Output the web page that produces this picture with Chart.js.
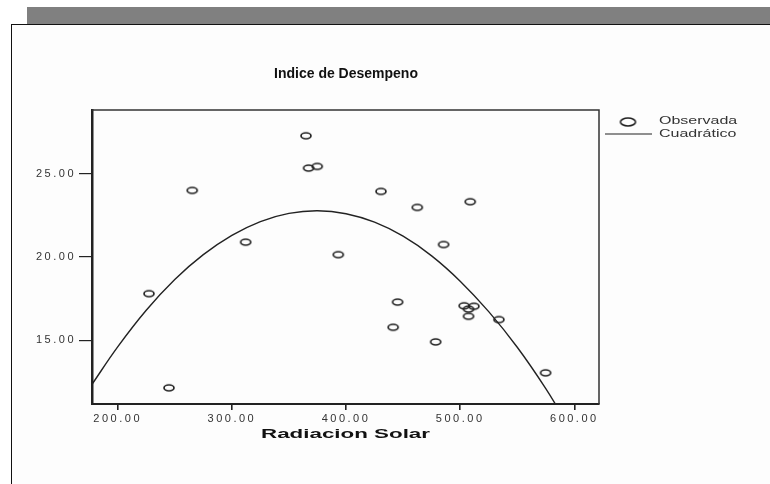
<!DOCTYPE html>
<html>
<head>
<meta charset="utf-8">
<script src="https://cdn.jsdelivr.net/npm/chart.js@4/dist/chart.umd.min.js"></script>
<style>
  html, body { margin: 0; padding: 0; background: #ffffff; width: 770px; height: 484px; overflow: hidden; }
  #bar { position: absolute; left: 27px; top: 7px; width: 743px; height: 17px; background: #808080; }
  #box { position: absolute; left: 11px; top: 24px; width: 800px; height: 500px; background: #fdfdfd;
         border-left: 1.5px solid #111; border-top: 1.5px solid #111; }
  #c { position: absolute; left: 0; top: 0; }
</style>
</head>
<body>
<div id="bar"></div>
<div id="box"></div>
<canvas id="c" width="770" height="484"></canvas>
<script>
// ---- data ----
const chartTitle = "Indice de Desempeno";
const xAxisTitle = "Radiacion Solar";
const legendLabels = ["Observada", "Cuadrático"];
const xTicks = [200, 300, 400, 500, 600];
const yTicks = [15, 20, 25];
const obsX = [227.4, 244.9, 265.3, 312.1, 364.9, 367.2, 374.8, 393.2, 430.6, 441.3, 445.2, 462.4, 478.5, 485.5, 503.5, 507.3, 507.3, 508.8, 512.0, 533.9, 574.8];
const obsY = [17.80, 12.14, 24.00, 20.89, 27.28, 25.34, 25.44, 20.14, 23.94, 15.78, 17.29, 22.98, 14.90, 20.75, 17.07, 16.87, 16.44, 23.32, 17.04, 16.24, 13.04];
const fitX = [177.5, 200, 225, 250, 275, 300, 325, 350, 375, 400, 425, 450, 475, 500, 525, 550, 575, 590];
const fitY = [12.35, 14.60, 16.80, 18.65, 20.14, 21.30, 22.13, 22.62, 22.78, 22.60, 22.09, 21.25, 20.07, 18.55, 16.72, 14.58, 12.10, 10.40];

// ellipse marker (picture is horizontally stretched)
function ellipseMarker(w, h, lw) {
  const cv = document.createElement('canvas');
  cv.width = w + 4; cv.height = h + 4;
  const g = cv.getContext('2d');
  g.strokeStyle = '#222'; g.lineWidth = lw;
  g.beginPath();
  g.ellipse(cv.width / 2, cv.height / 2, w / 2, h / 2, 0, 0, Math.PI * 2);
  g.stroke();
  return cv;
}
const ptMarker = ellipseMarker(10, 6, 1.7);
const legMarker = ellipseMarker(15, 8, 1.6);

function sText(ctx, text, x, y, font, align, sx, color) {
  ctx.save();
  ctx.letterSpacing = '0px';
  ctx.translate(x, y);
  ctx.scale(sx, 1);
  ctx.font = font;
  ctx.fillStyle = color;
  ctx.textAlign = align;
  ctx.textBaseline = 'middle';
  ctx.fillText(text, 0, 0);
  ctx.restore();
}

const decor = {
  id: 'decor',
  beforeDraw(chart) { chart.ctx.letterSpacing = '2.5px'; },
  afterDraw(chart) {
    const ctx = chart.ctx;
    ctx.letterSpacing = '0px';
    const a = chart.chartArea;
    ctx.save();
    ctx.strokeStyle = '#333'; ctx.lineWidth = 1.5;
    ctx.beginPath();
    ctx.moveTo(a.left, a.top); ctx.lineTo(a.right, a.top); ctx.lineTo(a.right, a.bottom);
    ctx.stroke();
    ctx.restore();
    // title
    sText(ctx, chartTitle, 346, 74, 'bold 14px "Liberation Sans"', 'center', 1.0, '#111');
    // x axis title
    sText(ctx, xAxisTitle, (a.left + a.right) / 2, 434, 'bold 13px "Liberation Sans"', 'center', 1.72, '#111');
    // legend
    ctx.drawImage(legMarker, 628 - legMarker.width / 2, 122 - legMarker.height / 2);
    sText(ctx, legendLabels[0], 659, 121.5, '10px "Liberation Sans"', 'left', 1.6, '#333');
    ctx.save();
    ctx.strokeStyle = '#222'; ctx.lineWidth = 1.2;
    ctx.beginPath(); ctx.moveTo(605, 134); ctx.lineTo(652, 134); ctx.stroke();
    ctx.restore();
    sText(ctx, legendLabels[1], 659, 134, '10px "Liberation Sans"', 'left', 1.6, '#333');
  }
};

new Chart(document.getElementById('c'), {
  type: 'scatter',
  data: {
    datasets: [
      {
        label: legendLabels[0],
        data: obsX.map((x, i) => ({ x: x, y: obsY[i] })),
        pointStyle: ptMarker,
        pointRadius: 5,
        showLine: false,
        order: 1
      },
      {
        label: legendLabels[1],
        type: 'line',
        data: fitX.map((x, i) => ({ x: x, y: fitY[i] })),
        borderColor: '#222',
        borderWidth: 1.4,
        pointRadius: 0,
        tension: 0.4,
        fill: false,
        order: 2
      }
    ]
  },
  options: {
    responsive: false,
    animation: false,
    devicePixelRatio: 1,
    layout: { padding: { left: 0, top: 110, right: 171, bottom: 0 } },
    plugins: { legend: { display: false }, title: { display: false }, tooltip: { enabled: false } },
    scales: {
      x: {
        type: 'linear', position: 'bottom', min: 177.5, max: 621.6,
        afterFit(s) { s.height = 80; },
        afterBuildTicks(s) { s.ticks = xTicks.map(v => ({ value: v })); },
        grid: { display: true, drawOnChartArea: false, drawTicks: true, tickLength: 6, color: '#222', lineWidth: 1.6 },
        border: { display: true, color: '#222', width: 2 },
        ticks: { padding: 2, color: '#333', font: { family: 'Liberation Sans', size: 11 }, maxRotation: 0,
                 callback: v => Number(v).toFixed(2) }
      },
      y: {
        type: 'linear', min: 11.17, max: 28.83,
        afterFit(s) { s.width = 92; },
        afterBuildTicks(s) { s.ticks = yTicks.map(v => ({ value: v })); },
        grid: { display: true, drawOnChartArea: false, drawTicks: true, tickLength: 13, color: '#222', lineWidth: 1.2 },
        border: { display: true, color: '#222', width: 2.5 },
        ticks: { padding: 3, color: '#333', font: { family: 'Liberation Sans', size: 11 },
                 callback: v => Number(v).toFixed(2) }
      }
    }
  },
  plugins: [decor]
});
</script>
</body>
</html>
